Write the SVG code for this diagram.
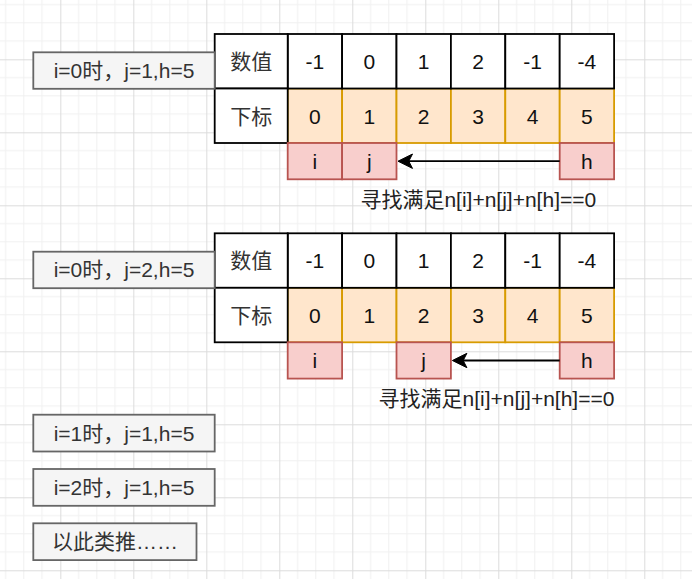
<svg xmlns="http://www.w3.org/2000/svg" width="692" height="579" viewBox="0 0 692 579">
<defs>
<pattern id="grid" patternUnits="userSpaceOnUse" x="-12.7" y="-13.7" width="73" height="73">
<path d="M18.25 0V73M36.5 0V73M54.75 0V73M0 18.25H73M0 36.5H73M0 54.75H73" stroke="#f0f0f0" stroke-width="1" fill="none"/>
<path d="M0.5 0V73M0 0.5H73" stroke="#dcdcdc" stroke-width="1" fill="none"/>
</pattern>
<style>
text{font-family:"Liberation Sans","Noto Sans CJK SC",sans-serif;font-size:21px;text-anchor:middle;fill:#111}
.lbl rect{fill:#f5f5f5;stroke:#666;stroke-width:1.8}
.lbl text{fill:#333}
.w rect{fill:#fff;stroke:#000;stroke-width:1.8}
.o rect{fill:#ffe6cc;stroke:#d79b00;stroke-width:1.8}
.p rect{fill:#f8cecc;stroke:#b85450;stroke-width:1.8}
.cjk{fill:#333}
.note{fill:#222}
.edge{stroke:#000;stroke-width:1.8;fill:none}
.head{fill:#000;stroke:#000;stroke-width:1}
</style>
</defs>
<rect width="692" height="579" fill="#fff"/>
<rect width="692" height="579" fill="url(#grid)"/>

<!-- Table 1 -->
<g id="t1-idx">
<g class="o" id="t1-i0"><rect x="287.7" y="88.5" width="54.4" height="54.5"/><text x="314.9" y="96" dy="27.5">0</text></g>
<g class="o" id="t1-i1"><rect x="342.1" y="88.5" width="54.4" height="54.5"/><text x="369.3" y="96" dy="27.5">1</text></g>
<g class="o" id="t1-i2"><rect x="396.5" y="88.5" width="54.4" height="54.5"/><text x="423.7" y="96" dy="27.5">2</text></g>
<g class="o" id="t1-i3"><rect x="450.9" y="88.5" width="54.4" height="54.5"/><text x="478.1" y="96" dy="27.5">3</text></g>
<g class="o" id="t1-i4"><rect x="505.3" y="88.5" width="54.4" height="54.5"/><text x="532.5" y="96" dy="27.5">4</text></g>
<g class="o" id="t1-i5"><rect x="559.7" y="88.5" width="54.4" height="54.5"/><text x="586.9" y="96" dy="27.5">5</text></g>
</g>
<g id="t1-val">
<g class="w" id="t1-v0"><rect x="287.7" y="34" width="54.4" height="54.5"/><text x="314.9" y="41.5" dy="27.5">-1</text></g>
<g class="w" id="t1-v1"><rect x="342.1" y="34" width="54.4" height="54.5"/><text x="369.3" y="41.5" dy="27.5">0</text></g>
<g class="w" id="t1-v2"><rect x="396.5" y="34" width="54.4" height="54.5"/><text x="423.7" y="41.5" dy="27.5">1</text></g>
<g class="w" id="t1-v3"><rect x="450.9" y="34" width="54.4" height="54.5"/><text x="478.1" y="41.5" dy="27.5">2</text></g>
<g class="w" id="t1-v4"><rect x="505.3" y="34" width="54.4" height="54.5"/><text x="532.5" y="41.5" dy="27.5">-1</text></g>
<g class="w" id="t1-v5"><rect x="559.7" y="34" width="54.4" height="54.5"/><text x="586.9" y="41.5" dy="27.5">-4</text></g>
<g class="w" id="t1-hv"><rect x="214.7" y="34" width="73" height="54.5"/><text class="cjk" x="251.2" y="41.5" dy="27.5">数值</text></g>
<g class="w" id="t1-hi"><rect x="214.7" y="88.5" width="73" height="54.5"/><text class="cjk" x="251.2" y="96" dy="27.5">下标</text></g>
</g>
<g class="p" id="t1-pi"><rect x="287.7" y="143" width="54.4" height="36.3"/><text x="314.9" y="168.5">i</text></g>
<g class="p" id="t1-pj"><rect x="342.1" y="143" width="54.4" height="36.3"/><text x="369.3" y="168.5">j</text></g>
<g class="p" id="t1-ph"><rect x="559.7" y="143" width="54.4" height="36.3"/><text x="586.9" y="168.5">h</text></g>
<g id="t1-note"><text class="note" x="478.3" y="206.5">寻找满足n[i]+n[j]+n[h]==0</text></g>

<!-- Table 2 -->
<g id="t2-idx">
<g class="o" id="t2-i0"><rect x="287.7" y="287.8" width="54.4" height="54.5"/><text x="314.9" y="295.3" dy="27.5">0</text></g>
<g class="o" id="t2-i1"><rect x="342.1" y="287.8" width="54.4" height="54.5"/><text x="369.3" y="295.3" dy="27.5">1</text></g>
<g class="o" id="t2-i2"><rect x="396.5" y="287.8" width="54.4" height="54.5"/><text x="423.7" y="295.3" dy="27.5">2</text></g>
<g class="o" id="t2-i3"><rect x="450.9" y="287.8" width="54.4" height="54.5"/><text x="478.1" y="295.3" dy="27.5">3</text></g>
<g class="o" id="t2-i4"><rect x="505.3" y="287.8" width="54.4" height="54.5"/><text x="532.5" y="295.3" dy="27.5">4</text></g>
<g class="o" id="t2-i5"><rect x="559.7" y="287.8" width="54.4" height="54.5"/><text x="586.9" y="295.3" dy="27.5">5</text></g>
</g>
<g id="t2-val">
<g class="w" id="t2-v0"><rect x="287.7" y="233.3" width="54.4" height="54.5"/><text x="314.9" y="240.8" dy="27.5">-1</text></g>
<g class="w" id="t2-v1"><rect x="342.1" y="233.3" width="54.4" height="54.5"/><text x="369.3" y="240.8" dy="27.5">0</text></g>
<g class="w" id="t2-v2"><rect x="396.5" y="233.3" width="54.4" height="54.5"/><text x="423.7" y="240.8" dy="27.5">1</text></g>
<g class="w" id="t2-v3"><rect x="450.9" y="233.3" width="54.4" height="54.5"/><text x="478.1" y="240.8" dy="27.5">2</text></g>
<g class="w" id="t2-v4"><rect x="505.3" y="233.3" width="54.4" height="54.5"/><text x="532.5" y="240.8" dy="27.5">-1</text></g>
<g class="w" id="t2-v5"><rect x="559.7" y="233.3" width="54.4" height="54.5"/><text x="586.9" y="240.8" dy="27.5">-4</text></g>
<g class="w" id="t2-hv"><rect x="214.7" y="233.3" width="73" height="54.5"/><text class="cjk" x="251.2" y="240.8" dy="27.5">数值</text></g>
<g class="w" id="t2-hi"><rect x="214.7" y="287.8" width="73" height="54.5"/><text class="cjk" x="251.2" y="295.3" dy="27.5">下标</text></g>
</g>
<g class="p" id="t2-pi"><rect x="287.7" y="342.3" width="54.4" height="36.3"/><text x="314.9" y="367.8">i</text></g>
<g class="p" id="t2-pj"><rect x="396.5" y="342.3" width="54.4" height="36.3"/><text x="423.7" y="367.8">j</text></g>
<g class="p" id="t2-ph"><rect x="559.7" y="342.3" width="54.4" height="36.3"/><text x="586.9" y="367.8">h</text></g>
<g id="t2-note"><text class="note" x="496.5" y="405.8">寻找满足n[i]+n[j]+n[h]==0</text></g>

<!-- Labels -->
<g class="lbl" id="lbl1"><rect x="33.3" y="52.3" width="181.4" height="36.5"/><text x="124" y="78">i=0时，j=1,h=5</text></g>
<g class="lbl" id="lbl2"><rect x="33.3" y="251.7" width="181.4" height="36.5"/><text x="124" y="277.4">i=0时，j=2,h=5</text></g>
<g class="lbl" id="lbl3"><rect x="33.3" y="414.7" width="181.4" height="36.8"/><text x="124" y="440.5">i=1时，j=1,h=5</text></g>
<g class="lbl" id="lbl4"><rect x="33.3" y="469" width="181.4" height="36.8"/><text x="124" y="494.8">i=2时，j=1,h=5</text></g>
<g class="lbl" id="lbl5"><rect x="33.3" y="523.3" width="163.2" height="36.8"/><text x="115" y="549.1">以此类推……</text></g>

<!-- Connectors -->
<g id="connectors">
<path class="edge" d="M559.7 161.2H408"/>
<path class="head" d="M398 161.2L412.5 154L408.8 161.2L412.5 168.4Z"/>
<path class="edge" d="M559.7 360.5H462.5"/>
<path class="head" d="M452.4 360.5L466.9 353.3L463.2 360.5L466.9 367.7Z"/>
</g>
</svg>
